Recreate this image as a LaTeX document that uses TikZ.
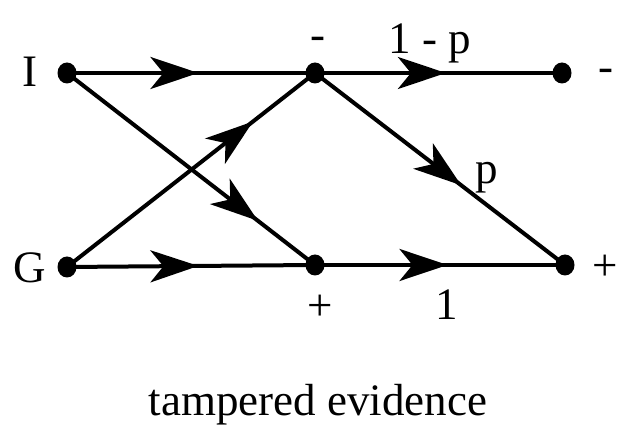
\documentclass[tikz,border=0pt]{standalone}
\usepackage{fontspec}
\setmainfont{Liberation Serif}
\usetikzlibrary{arrows.meta,decorations.markings,shapes.geometric}
\tikzset{
  dot/.style={ellipse,fill=black,inner sep=0pt,minimum width=19pt,minimum height=21pt},
  lab/.style={inner sep=0pt,font=\fontsize{45}{50}\selectfont},
  arrowline/.style={line width=4pt,postaction={decorate},
    decoration={markings,mark=at position #1 with {\arrow{Stealth[length=48pt,width=32pt,inset=13pt]}}}}
}
\begin{document}
\begin{tikzpicture}[x=1pt,y=1pt]
\useasboundingbox (0,0) rectangle (628,435);
\fill[white] (0,0) rectangle (628,435);
% dots
\node[dot] (I) at (67,362) {};
\node[dot] (G) at (67,168) {};
\node[dot] (mm) at (315,362) {};
\node[dot] (mp) at (315,170) {};
\node[dot] (rm) at (562,362) {};
\node[dot] (rp) at (565,170) {};
% connectors
\draw[arrowline=0.53] (I.center) -- (mm.center);
\draw[arrowline=0.53] (mm.center) -- (rm.center);
\draw[arrowline=0.53] (G.center) -- (mp.center);
\draw[arrowline=0.53] (mp.center) -- (rp.center);
\draw[arrowline=0.77] (I.center) -- (mp.center);
\draw[arrowline=0.75] (G.center) -- (mm.center);
\draw[arrowline=0.585] (mm.center) -- (rp.center);
% labels
\node[lab] (tI) at (30,363) {I};
\node[lab] (tG) at (30,167) {G};
\node[lab] (tmm) at (318,392) {-};
\node[lab] (t1p) at (430,392) {1 - p};
\node[lab] (trm) at (606,360) {-};
\node[lab] (tp) at (487,257) {p};
\node[lab] (tmp) at (320,127) {+};
\node[lab] (t1) at (447,130) {1};
\node[lab] (trp) at (605,167) {+};
\node[lab] (title) at (318,30) {tampered evidence};
\end{tikzpicture}
\end{document}
